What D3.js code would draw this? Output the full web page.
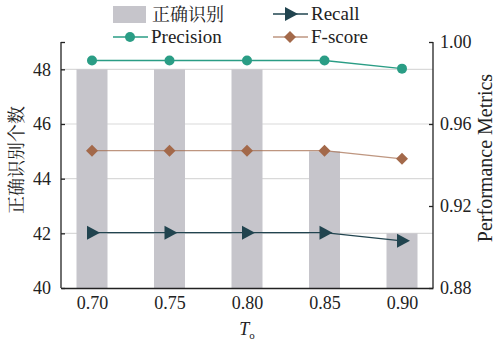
<!DOCTYPE html>
<html>
<head>
<meta charset="utf-8">
<script src="https://cdn.jsdelivr.net/npm/d3@7.9.0/dist/d3.min.js"></script>
<style>
  body { margin: 0; background: #fff; }
</style>
</head>
<body>
<div id="chart"></div>
<script>
// data
const thresholds = ['0.70', '0.75', '0.80', '0.85', '0.90'];
const correctCount = [48, 48, 48, 45, 42];
const precision = [0.991, 0.991, 0.991, 0.991, 0.987];
const recall = [0.907, 0.907, 0.907, 0.907, 0.903];
const fscore = [0.947, 0.947, 0.947, 0.947, 0.943];
const leftTicks = [40, 42, 44, 46, 48];
const rightTicks = [0.88, 0.92, 0.96, 1.00];

const SERIF = 'Liberation Serif';
const CJK = 'Noto Serif CJK SC';

const width = 495, height = 341;
const margin = { top: 42, right: 62, bottom: 53, left: 61 };
const inner = {
  left: margin.left,
  right: width - margin.right,
  top: margin.top,
  bottom: height - margin.bottom
};

const colors = {
  bar: '#c6c5cb',
  precision: '#2a9d85',
  recall: '#21444f',
  fscore: '#a3694a',
  grid: '#d9d9d9',
  axis: '#222'
};

const svg = d3.select('#chart').append('svg')
  .attr('width', width)
  .attr('height', height)
  .attr('font-family', SERIF);

const x = d3.scalePoint()
  .domain(thresholds)
  .range([inner.left, inner.right])
  .padding(0.4);

const yLeft = d3.scaleLinear().domain([40, 49]).range([inner.bottom, inner.top]);
const yRight = d3.scaleLinear().domain([0.88, 1.00]).range([inner.bottom, inner.top]);

// gridlines
svg.append('g')
  .selectAll('line')
  .data(leftTicks.slice(1))
  .join('line')
  .attr('x1', inner.left).attr('x2', inner.right)
  .attr('y1', d => yLeft(d)).attr('y2', d => yLeft(d))
  .attr('stroke', colors.grid)
  .attr('stroke-width', 1.2);

// bars
const barW = 31;
svg.append('g')
  .selectAll('rect')
  .data(correctCount)
  .join('rect')
  .attr('x', (d, i) => x(thresholds[i]) - barW / 2)
  .attr('width', barW)
  .attr('y', d => yLeft(d))
  .attr('height', d => yLeft(40) - yLeft(d))
  .attr('fill', colors.bar);

// axes
const leftAxis = d3.axisLeft(yLeft).tickValues(leftTicks.concat([49])).tickSize(-4).tickPadding(10)
  .tickFormat(d => d === 49 ? '' : d);
const gL = svg.append('g').attr('transform', `translate(${inner.left},0)`).call(leftAxis);

const rightAxis = d3.axisRight(yRight).tickValues(rightTicks).tickSize(-4).tickPadding(7)
  .tickFormat(d3.format('.2f'));
const gR = svg.append('g').attr('transform', `translate(${inner.right},0)`).call(rightAxis);

const bottomAxis = d3.axisBottom(x).tickSize(0).tickPadding(8);
const gB = svg.append('g').attr('transform', `translate(0,${inner.bottom})`).call(bottomAxis);

[gL, gR, gB].forEach(g => {
  g.attr('font-family', SERIF).attr('font-size', 18);
  g.select('.domain').attr('stroke', colors.axis).attr('stroke-width', 1.3);
  g.selectAll('.tick line').attr('stroke', colors.axis).attr('stroke-width', 1.3);
  g.selectAll('.tick text').attr('font-family', SERIF).attr('fill', '#222');
});
gL.select('.domain').attr('d', `M0,${inner.bottom}V${inner.top}`);
gR.select('.domain').attr('d', `M0,${inner.bottom}V${inner.top}`);

// lines
const series = [
  { name: 'Precision', values: precision, color: colors.precision, shape: 'circle', lineOpacity: 1 },
  { name: 'F-score', values: fscore, color: colors.fscore, shape: 'diamond', lineOpacity: 0.7 },
  { name: 'Recall', values: recall, color: colors.recall, shape: 'triangle', lineOpacity: 1 }
];

const line = d3.line()
  .x((d, i) => x(thresholds[i]))
  .y(d => yRight(d));

function drawMarker(g, shape, color) {
  if (shape === 'circle') {
    g.append('circle').attr('r', 5).attr('fill', color);
  } else if (shape === 'diamond') {
    g.append('path').attr('d', 'M0,-6L6,0L0,6L-6,0Z').attr('fill', color);
  } else {
    g.append('path').attr('d', 'M-5,-7L8,0L-5,7Z').attr('fill', color);
  }
}

series.forEach(s => {
  svg.append('path')
    .datum(s.values)
    .attr('d', line)
    .attr('fill', 'none')
    .attr('stroke', s.color)
    .attr('stroke-opacity', s.lineOpacity)
    .attr('stroke-width', 1.4);
  s.values.forEach((v, i) => {
    const g = svg.append('g').attr('transform', `translate(${x(thresholds[i])},${yRight(v)})`);
    drawMarker(g, s.shape, s.color);
  });
});

// legend
const legend = svg.append('g');
legend.append('rect')
  .attr('x', 113).attr('y', 6).attr('width', 33).attr('height', 17)
  .attr('fill', colors.bar);
legend.append('text')
  .attr('x', 152).attr('y', 21)
  .attr('font-family', CJK)
  .attr('font-size', 18)
  .attr('fill', '#222')
  .text('正确识别');

const legendItems = [
  { s: series[2], x: 273, y: 14 },
  { s: series[0], x: 113, y: 37 },
  { s: series[1], x: 273, y: 37 }
];
legendItems.forEach(({ s, x: lx, y: ly }) => {
  legend.append('line')
    .attr('x1', lx).attr('x2', lx + 35)
    .attr('y1', ly).attr('y2', ly)
    .attr('stroke', s.color)
    .attr('stroke-opacity', s.lineOpacity)
    .attr('stroke-width', 1.4);
  const g = legend.append('g').attr('transform', `translate(${lx + 17},${ly})`);
  drawMarker(g, s.shape, s.color);
  legend.append('text')
    .attr('x', lx + 38).attr('y', ly + 6)
    .attr('font-family', SERIF)
    .attr('font-size', 19)
    .attr('fill', '#222')
    .text(s.name);
});

// axis titles
svg.append('text')
  .attr('transform', `translate(23,160) rotate(-90)`)
  .attr('text-anchor', 'middle')
  .attr('font-family', CJK)
  .attr('font-size', 18)
  .attr('fill', '#222')
  .text('正确识别个数');

svg.append('text')
  .attr('transform', `translate(492,158) rotate(-90)`)
  .attr('text-anchor', 'middle')
  .attr('font-family', SERIF)
  .attr('font-size', 20)
  .attr('fill', '#222')
  .text('Performance Metrics');

const xt = svg.append('text')
  .attr('x', (inner.left + inner.right) / 2)
  .attr('y', 335)
  .attr('text-anchor', 'middle')
  .attr('font-family', SERIF)
  .attr('font-size', 18)
  .attr('fill', '#222');
xt.append('tspan').attr('font-style', 'italic').text('T');
xt.append('tspan').attr('dy', 4).attr('font-size', 11).text('o');
</script>
</body>
</html>
